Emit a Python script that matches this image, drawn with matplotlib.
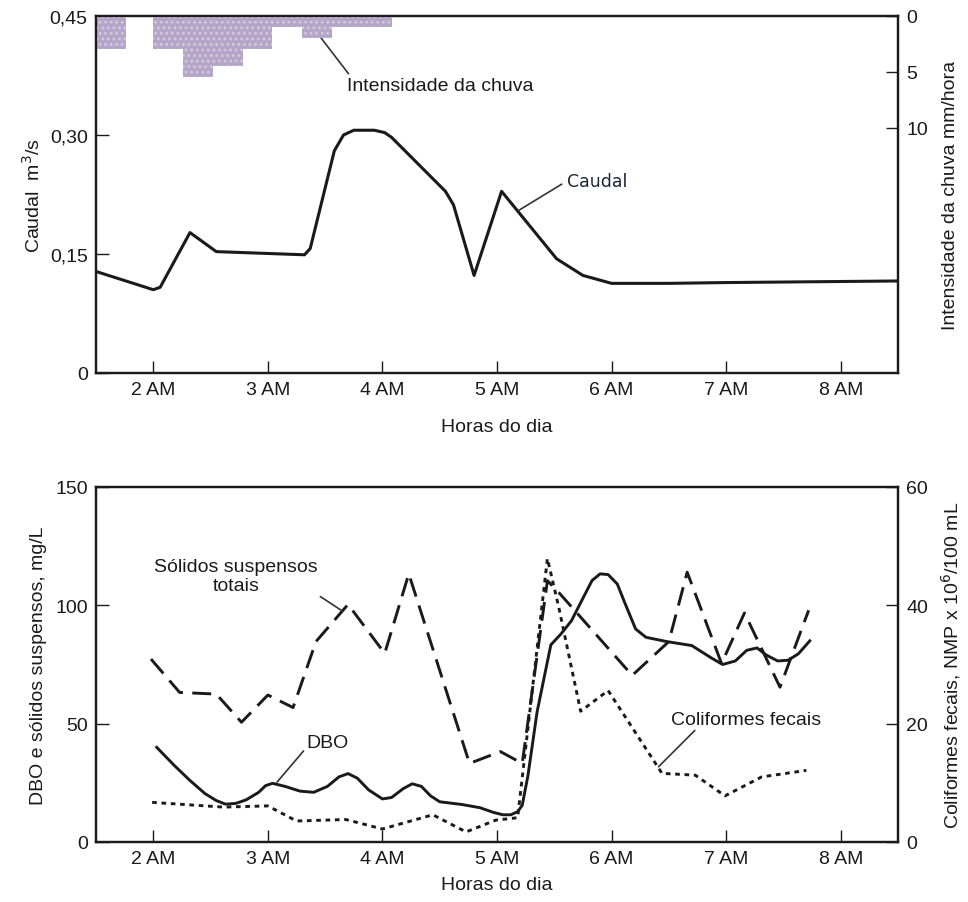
import matplotlib
matplotlib.use("Agg")
import matplotlib.pyplot as plt
import numpy as np

plt.rcParams['font.family'] = ['Liberation Sans', 'DejaVu Sans']
plt.rcParams['hatch.linewidth'] = 1.2

# ---------------- data ----------------
hour_ticks = [2, 3, 4, 5, 6, 7, 8]
hour_labels = ["2 AM", "3 AM", "4 AM", "5 AM", "6 AM", "7 AM", "8 AM"]

# rain intensity (mm/h), bar start times (h) and width
rain_start = [1.50, 2.00, 2.26, 2.52, 2.78, 3.04, 3.30, 3.56, 3.82]
rain_value = [3.0, 3.0, 5.5, 4.5, 3.0, 1.0, 2.0, 1.0, 1.0]
rain_width = 0.26

# flow (m3/s)
flow_t = [1.50, 2.00, 2.06, 2.32, 2.55, 3.32, 3.37, 3.58, 3.66, 3.75, 3.93, 4.02, 4.08,
          4.55, 4.62, 4.80, 5.04, 5.52, 5.75, 6.00, 6.50, 7.00, 8.50]
flow_v = [0.128, 0.105, 0.108, 0.177, 0.153, 0.149, 0.157, 0.280, 0.300, 0.306,
          0.306, 0.303, 0.297, 0.229, 0.212, 0.123, 0.229, 0.144, 0.123, 0.113, 0.113,
          0.114, 0.116]

# total suspended solids (mg/L)
sst_t = [1.98, 2.23, 2.55, 2.77, 3.00, 3.22, 3.42, 3.70, 4.02, 4.23, 4.76, 5.03,
         5.22, 5.44, 5.54, 6.18, 6.50, 6.66, 6.96, 7.16, 7.47, 7.72]
sst_v = [77.3, 63.2, 62.5, 50.6, 62.1, 56.8, 84.7, 100.4, 79.7, 113.3, 33.2, 38.2,
         33.2, 110.4, 105.4, 70.4, 84.7, 114.0, 75.4, 96.8, 65.4, 97.9]

# BOD (mg/L)
dbo_t = [2.03, 2.18, 2.32, 2.45, 2.55, 2.63, 2.72, 2.81, 2.92, 2.98, 3.04, 3.15,
         3.28, 3.40, 3.52, 3.62, 3.70, 3.78, 3.88, 4.00, 4.08, 4.18, 4.26, 4.34,
         4.42, 4.50, 4.70, 4.85, 4.97, 5.05, 5.12, 5.18, 5.22, 5.27, 5.35, 5.47,
         5.56, 5.65, 5.75, 5.83, 5.90, 5.97, 6.05, 6.12, 6.21, 6.30, 6.48, 6.70,
         6.88, 6.97, 7.08, 7.18, 7.27, 7.35, 7.45, 7.54, 7.63, 7.73]
dbo_v = [40.0, 32.5, 26.0, 20.5, 17.5, 16.0, 16.3, 17.8, 21.0, 23.8, 24.8, 23.5,
         21.5, 21.0, 23.5, 27.5, 28.9, 27.0, 22.0, 18.2, 18.8, 22.5, 24.6, 23.5,
         19.5, 17.0, 15.8, 14.5, 12.5, 11.5, 11.5, 12.8, 15.5, 28.0, 55.0, 83.3,
         88.0, 93.5, 103.0, 110.5, 113.3, 113.0, 109.0, 100.5, 90.0, 86.5, 84.7, 83.0,
         77.5, 75.0, 76.5, 81.0, 82.0, 79.0, 76.5, 76.8, 79.5, 85.0]

# faecal coliforms (NMP x 10^6 / 100 mL)
col_t = [1.99, 2.61, 3.00, 3.25, 3.68, 4.00, 4.44, 4.73, 4.99, 5.18, 5.44, 5.54,
         5.73, 5.97, 6.44, 6.73, 6.99, 7.31, 7.70]
col_v = [6.7, 5.9, 6.1, 3.55, 3.8, 2.2, 4.6, 1.7, 3.7, 4.1, 47.9, 39.6,
         22.1, 25.6, 11.6, 11.3, 7.8, 11.0, 12.1]

# ---------------- figure ----------------
fig = plt.figure(figsize=(9.68, 9.03), dpi=100)
W, H = 968, 903

def box(l, t, r, b):
    return [l / W, 1 - b / H, (r - l) / W, (b - t) / H]

ink = '#1a1a1a'
fs = 14

# ---- top panel ----
ax1 = fig.add_axes(box(96, 17, 898, 374))
ax1.plot(flow_t, flow_v, color=ink, lw=2.2, solid_joinstyle='round', zorder=3)
ax1.set_xlim(1.5, 8.5)
ax1.set_ylim(0, 0.45)
ax1.set_yticks([0, 0.15, 0.30, 0.45])
ax1.set_yticklabels(["0", "0,15", "0,30", "0,45"])
ax1.set_xticks(hour_ticks)
ax1.set_xticklabels(hour_labels)
ax1.tick_params(direction='in', length=9, width=1, labelsize=fs, colors=ink, pad=6)
ax1.set_xlabel("Horas do dia", fontsize=fs, color=ink, labelpad=14)
ax1.set_ylabel("Caudal  m$^3$/s", fontsize=fs, color=ink, labelpad=4)

ax1r = ax1.twinx()
ax1r.bar(rain_start, rain_value, width=rain_width, align='edge',
         color='#b4a6c8', edgecolor='#dcc8dc', linewidth=0, hatch='...', zorder=1)
ax1r.set_ylim(32, 0)
ax1r.set_yticks([0, 5, 10])
ax1r.tick_params(direction='in', length=9, width=1, labelsize=fs, colors=ink, pad=6)
ax1r.set_ylabel("Intensidade da chuva mm/hora", fontsize=fs, color=ink, labelpad=10)

for sp in list(ax1.spines.values()) + list(ax1r.spines.values()):
    sp.set_linewidth(1.6)
    sp.set_color(ink)

ax1.annotate("Intensidade da chuva", xy=(3.45, 0.425), xytext=(3.69, 0.363),
             fontsize=fs, color=ink, va='center', ha='left',
             arrowprops=dict(arrowstyle='-', color='#333333', lw=1.2,
                             shrinkA=0, shrinkB=0, relpos=(0.02, 1.0)))
ax1.annotate("Caudal", xy=(5.19, 0.205), xytext=(5.61, 0.242),
             fontsize=12.5, color='#1b2438', va='center', ha='left',
             family=['DejaVu Sans'],
             arrowprops=dict(arrowstyle='-', color='#333333', lw=1.2,
                             shrinkA=2, shrinkB=0, relpos=(0.0, 0.5)))

# ---- bottom panel ----
ax2 = fig.add_axes(box(96, 488, 898, 843))
ax2.plot(dbo_t, dbo_v, color=ink, lw=2.1, solid_joinstyle='round')
ax2.plot(sst_t, sst_v, color=ink, lw=2.1, dashes=(6.5, 3.2))
ax2.set_xlim(1.5, 8.5)
ax2.set_ylim(0, 150)
ax2.set_yticks([0, 50, 100, 150])
ax2.set_xticks(hour_ticks)
ax2.set_xticklabels(hour_labels)
ax2.tick_params(direction='in', length=9, width=1, labelsize=fs, colors=ink, pad=6)
ax2.set_xlabel("Horas do dia", fontsize=fs, color=ink, labelpad=6)
ax2.set_ylabel("DBO e sólidos suspensos, mg/L", fontsize=fs, color=ink, labelpad=6)

ax2r = ax2.twinx()
ax2r.plot(col_t, col_v, color=ink, lw=2.1, dashes=(1.6, 1.6))
ax2r.set_ylim(0, 60)
ax2r.set_yticks([0, 20, 40, 60])
ax2r.tick_params(direction='in', length=9, width=1, labelsize=fs, colors=ink, pad=6)
ax2r.set_ylabel("Coliformes fecais, NMP x 10$^6$/100 mL", fontsize=fs, color=ink,
                labelpad=8)

for sp in list(ax2.spines.values()) + list(ax2r.spines.values()):
    sp.set_linewidth(1.6)
    sp.set_color(ink)

ax2.annotate("Sólidos suspensos\ntotais", xy=(3.65, 97.6), xytext=(2.72, 112.4),
             fontsize=fs, color=ink, va='center', ha='center', multialignment='center',
             arrowprops=dict(arrowstyle='-', color='#333333', lw=1.2,
                             shrinkA=0, shrinkB=0, relpos=(0.86, 0.4)))
ax2.annotate("DBO", xy=(3.08, 25.3), xytext=(3.52, 42.0),
             fontsize=fs, color=ink, va='center', ha='center',
             arrowprops=dict(arrowstyle='-', color='#333333', lw=1.2,
                             shrinkA=0, shrinkB=0, relpos=(0.0, 0.2)))
ax2.annotate("Coliformes fecais", xy=(6.41, 31.8), xytext=(7.17, 51.9),
             fontsize=fs, color=ink, va='center', ha='center',
             arrowprops=dict(arrowstyle='-', color='#333333', lw=1.2,
                             shrinkA=0, shrinkB=0, relpos=(0.18, 0.0)))

fig.savefig("out.png", dpi=100)
